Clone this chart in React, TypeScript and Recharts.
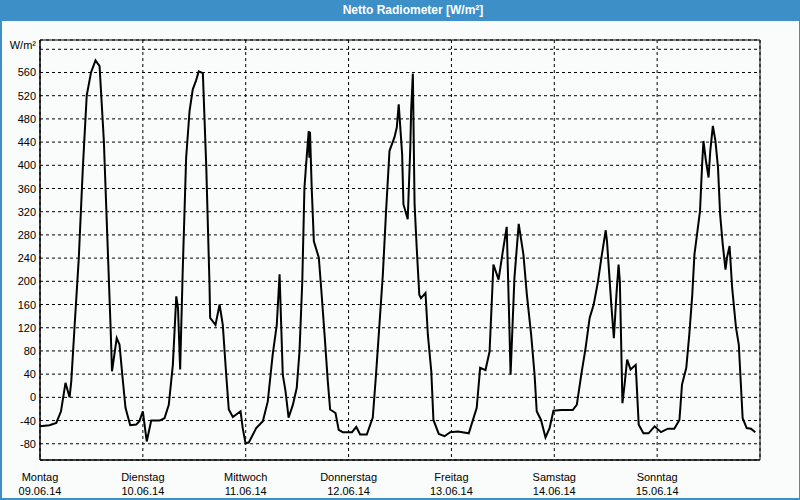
import { LineChart, Line, XAxis, YAxis, CartesianGrid, ReferenceArea } from 'recharts'

// Netto Radiometer, one week of readings (x = hours since Mon 09.06.14 00:00)
const HOURS = [
  0, 2.2, 3.8, 4.9, 5.95, 6.9, 7.3, 8.05, 9.05, 10, 10.9, 11.9, 12.95, 13.9, 14.9, 15.8, 16.45, 16.8,
  17.9, 18.55, 19.2, 19.95, 21.05, 22.45, 23.2, 24, 24.9, 25.95, 27.9, 29.05, 30.05, 31, 31.8, 32.2,
  32.7, 33.3, 34.1, 34.9, 35.65, 36.4, 37.05, 38, 38.8, 39.55, 39.7, 40.95, 41.9, 42.65, 43.45, 44.05,
  45, 46.8, 47.3, 47.95, 48.7, 50.45, 52, 53.15, 54.3, 55.25, 55.9, 56.65, 57.3, 58, 59, 59.9, 60.55,
  61.2, 61.7, 62.1, 62.7, 62.85, 63, 63.4, 63.65, 63.9, 65.05, 65.6, 66.4, 67.15, 67.7, 68.95, 69.7,
  70.65, 72.8, 73.8, 74.7, 76.25, 77.65, 78.4, 79.2, 80, 80.75, 81.55, 82.7, 83.25, 83.7, 84.5, 84.8,
  85.8, 86.4, 86.6, 87, 87.4, 87.9, 88.5, 88.9, 89.95, 90.5, 91.3, 91.8, 93.05, 94.4, 95.7, 97.5,
  100.05, 101.9, 102.7, 103.95, 104.9, 105.8, 107, 108, 108.9, 109.55, 109.8, 110.7, 111.7, 112.8,
  113.6, 114.6, 115.4, 115.9, 116.9, 117.95, 118.9, 119.8, 121.6, 124.3, 125.25, 126.3, 127.3, 128.25,
  129.2, 130.2, 131, 132, 132.3, 133.3, 133.9, 134.5, 135, 135.3, 135.9, 136.4, 137, 137.8, 139, 139.7,
  140.8, 142, 143.4, 144.9, 146.5, 148, 149.2, 149.8, 150.8, 151.5, 152.2, 152.7, 153.5, 154, 154.5,
  154.8, 155.4, 156, 156.4, 157, 157.6, 158.2, 158.7, 159.3, 159.95, 160.3, 160.9, 161.5, 162.4, 163.05,
  163.95, 164.9, 165.9, 166.9,
]

const NET_RAD = [
  -50, -48, -44, -24, 25, 0, 28, 120, 240, 396, 520, 560, 581, 571, 442, 258, 125, 45,
  102, 91, 39, -18, -48, -47, -41, -24, -76, -40, -40, -36, -13, 56, 174, 154,
  48, 218, 413, 494, 531, 546, 562, 559, 396, 195, 137, 125, 160, 125, 39, -21,
  -34, -24, -53, -79, -78, -53, -41, -7, 74, 125, 212, 39, 10, -35, -13, 16, 79,
  200, 361, 402, 459, 413, 458, 361, 315, 269, 241, 189, 108, 28, -21, -27, -56,
  -60, -60, -51, -64, -64, -35, 39, 125, 212, 321, 425, 448, 465, 505, 419, 333,
  307, 430, 494, 558, 333, 258, 177, 171, 180, 108, 45, -39, -63, -67, -60, -59,
  -62, -18, 51, 47, 79, 229, 203, 252, 294, 114, 39, 206, 299, 246,
  177, 108, 39, -24, -39, -69, -53, -23, -22, -22, -13, 39, 85, 137,
  160, 200, 241, 288, 269, 160, 102, 177, 229, 200, -10, 22, 65, 48, 56, -47,
  -62, -62, -50, -60, -54, -54, -39, 22, 51, 108, 177, 246, 292, 321, 402,
  442, 407, 379, 425, 468, 442, 396, 315, 264, 220, 241, 261, 189, 120, 91,
  -36, -53, -54, -60,
]

const DAY_TICKS = [0, 24, 48, 72, 96, 120, 144]
const DAY_NAMES = ['Montag', 'Dienstag', 'Mittwoch', 'Donnerstag', 'Freitag', 'Samstag', 'Sonntag']
const DAY_DATES = ['09.06.14', '10.06.14', '11.06.14', '12.06.14', '13.06.14', '14.06.14', '15.06.14']
const Y_TICKS = [-80, -40, 0, 40, 80, 120, 160, 200, 240, 280, 320, 360, 400, 440, 480, 520, 560, 600]
const UNIT = 'W/m²'

const data = HOURS.map((h, i) => ({ h, v: NET_RAD[i] }))

const FONT = '"Liberation Sans", Arial, sans-serif'

function DayTick({ x, y, payload }: any) {
  const i = DAY_TICKS.indexOf(payload.value)
  return (
    <g>
      <text x={x} y={y + 19} textAnchor="middle" fontSize={11} fontFamily={FONT} fill="#000">
        {DAY_NAMES[i]}
      </text>
      <text x={x} y={y + 33} textAnchor="middle" fontSize={11} fontFamily={FONT} fill="#000">
        {DAY_DATES[i]}
      </text>
    </g>
  )
}

function ValueTick({ x, y, payload }: any) {
  const top = payload.value === 600
  return (
    <text x={36} y={y + (top ? 0 : 4)} textAnchor="end" fontSize={11} fontFamily={FONT} fill="#000">
      {top ? UNIT : payload.value}
    </text>
  )
}

export default function App() {
  return (
    <div style={{ position: 'absolute', left: 0, top: 0, width: 800, height: 500, background: '#f9fcfb' }}>
      <LineChart width={800} height={500} data={data} margin={{ top: 40, right: 40, bottom: 0, left: 0 }}>
        <CartesianGrid stroke="#000" strokeDasharray="3 3" />
        <XAxis
          dataKey="h"
          type="number"
          domain={[0, 168]}
          ticks={DAY_TICKS}
          height={40}
          tickLine={false}
          tickSize={0}
          tick={<DayTick />}
          axisLine={{ stroke: '#000' }}
          interval={0}
        />
        <YAxis
          type="number"
          domain={[-108, 616]}
          ticks={Y_TICKS}
          width={40}
          tickLine={false}
          tickSize={0}
          tick={<ValueTick />}
          axisLine={{ stroke: '#000' }}
          interval={0}
          allowDataOverflow
        />
        <ReferenceArea x1={0} x2={168} y1={-108} y2={616} fill="none" stroke="#000" strokeWidth={1} />
        <Line
          type="linear"
          dataKey="v"
          stroke="#000"
          strokeWidth={2}
          dot={false}
          isAnimationActive={false}
        />
      </LineChart>
      <div
        style={{
          position: 'absolute', left: 0, top: 0, width: 800, height: 21, background: '#3d90c7',
          color: '#fff', fontFamily: FONT, fontSize: 12, fontWeight: 'bold', lineHeight: '21px',
        }}
      >
        <span style={{ position: 'absolute', left: 413, transform: 'translateX(-50%)', whiteSpace: 'nowrap' }}>
          Netto Radiometer [W/m²]
        </span>
      </div>
      <div
        style={{
          position: 'absolute', left: 0, top: 0, width: 800, height: 500, boxSizing: 'border-box',
          borderLeft: '2px solid #3d90c7', borderRight: '1px solid #3d90c7', borderBottom: '2px solid #3d90c7',
          pointerEvents: 'none',
        }}
      />
    </div>
  )
}
